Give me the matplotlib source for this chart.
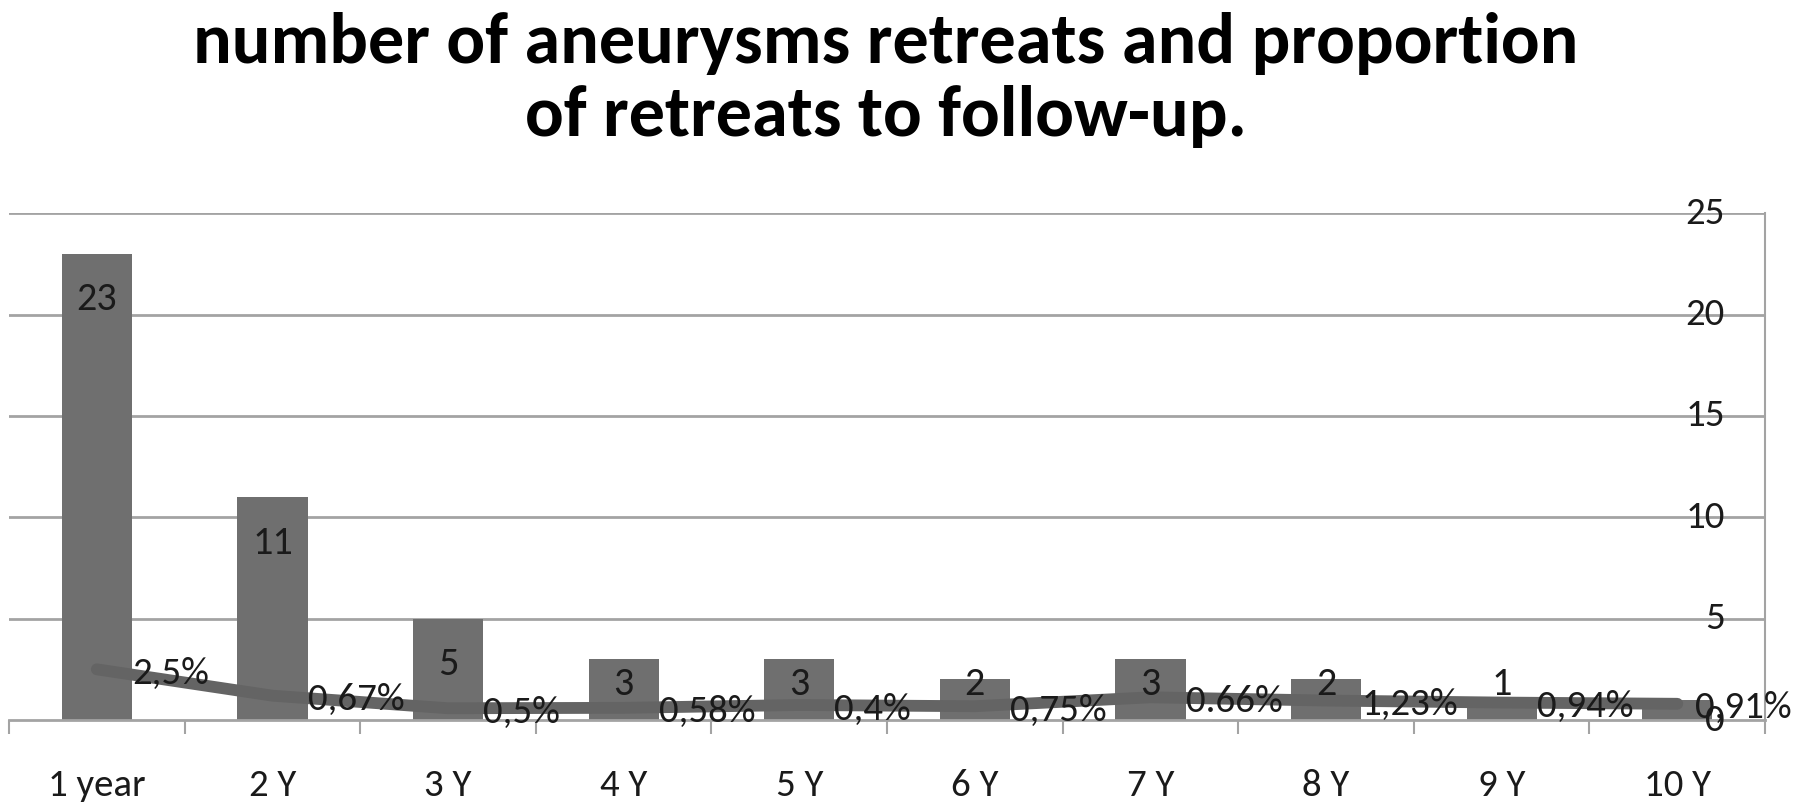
import matplotlib
matplotlib.use("Agg")
import matplotlib.pyplot as plt
from matplotlib.ticker import FixedLocator, NullFormatter
import numpy as np

plt.rcParams['font.family'] = ['Carlito', 'DejaVu Sans']

# data
categories = ['1 year', '2 Y', '3 Y', '4 Y', '5 Y', '6 Y', '7 Y', '8 Y', '9 Y', '10 Y']
retreats = [23, 11, 5, 3, 3, 2, 3, 2, 1, 1]
bar_labels = ['23', '11', '5', '3', '3', '2', '3', '2', '1', '']
proportion = [2.5, 1.2, 0.58, 0.6, 0.74, 0.68, 1.12, 0.96, 0.86, 0.8]
prop_labels = ['2,5%', '0,67%', '0,5%', '0,58%', '0,4%', '0,75%', '0.66%', '1,23%', '0,94%', '0,91%']
yticks = [0, 5, 10, 15, 20, 25]

title = "number of aneurysms retreats and proportion\nof retreats to follow-up."

bar_color = '#6f6f6f'
line_color = '#646464'
grid_color = '#a3a3a3'
txt = '#1a1a1a'

fig = plt.figure(figsize=(18, 8.07), dpi=100)
ax = fig.add_axes([0.005, 0.1078, 0.9756, 0.628])

x = np.arange(len(categories))
ax.bar(x, retreats, width=0.40, color=bar_color, zorder=2)
ax.plot(x, proportion, color=line_color, lw=8.5, solid_joinstyle='round',
        solid_capstyle='round', zorder=3)

for xi, v, lab in zip(x, retreats, bar_labels):
    if lab:
        ax.text(xi, max(v - 2.25, 1.8), lab, ha='center', va='center',
                fontsize=29, color=txt, zorder=5)

# percent labels sit right of each point; the last one is pulled in so it fits
for i, (xi, v, lab) in enumerate(zip(x, proportion, prop_labels)):
    dx = 0.2 if i < len(x) - 1 else 0.1
    ax.text(xi + dx, v - 0.2, lab, ha='left', va='center',
            fontsize=28, color=txt, zorder=5)

ax.set_xlim(-0.5, len(categories) - 0.5)
ax.set_ylim(0, 25)

# gridlines
for t in yticks[1:]:
    ax.axhline(t, color=grid_color, lw=2, zorder=1)

# value labels of the right axis, drawn inside the plot
ax.set_yticks([])
tr = ax.get_yaxis_transform()
for t in yticks:
    ax.text(0.977, t, str(t), transform=tr, ha='right',
            va='center', fontsize=28, color=txt, zorder=5)

ax.set_xticks(x)
ax.set_xticklabels(categories, fontsize=28, color=txt)
ax.xaxis.set_minor_locator(FixedLocator(np.arange(-0.5, len(categories), 1.0)))
ax.xaxis.set_minor_formatter(NullFormatter())
ax.tick_params(axis='x', which='major', length=0, pad=35)
ax.tick_params(axis='x', which='minor', length=10, width=1.5, color=grid_color)

for s in ['top', 'left']:
    ax.spines[s].set_visible(False)
ax.spines['bottom'].set_color(grid_color)
ax.spines['bottom'].set_linewidth(2)
ax.spines['right'].set_color(grid_color)
ax.spines['right'].set_linewidth(1.5)

fig.text(0.492, 0.985, title, ha='center', va='top', fontsize=52,
         fontweight='bold', color='black', linespacing=1.2)

fig.savefig("out.png", dpi=100)
